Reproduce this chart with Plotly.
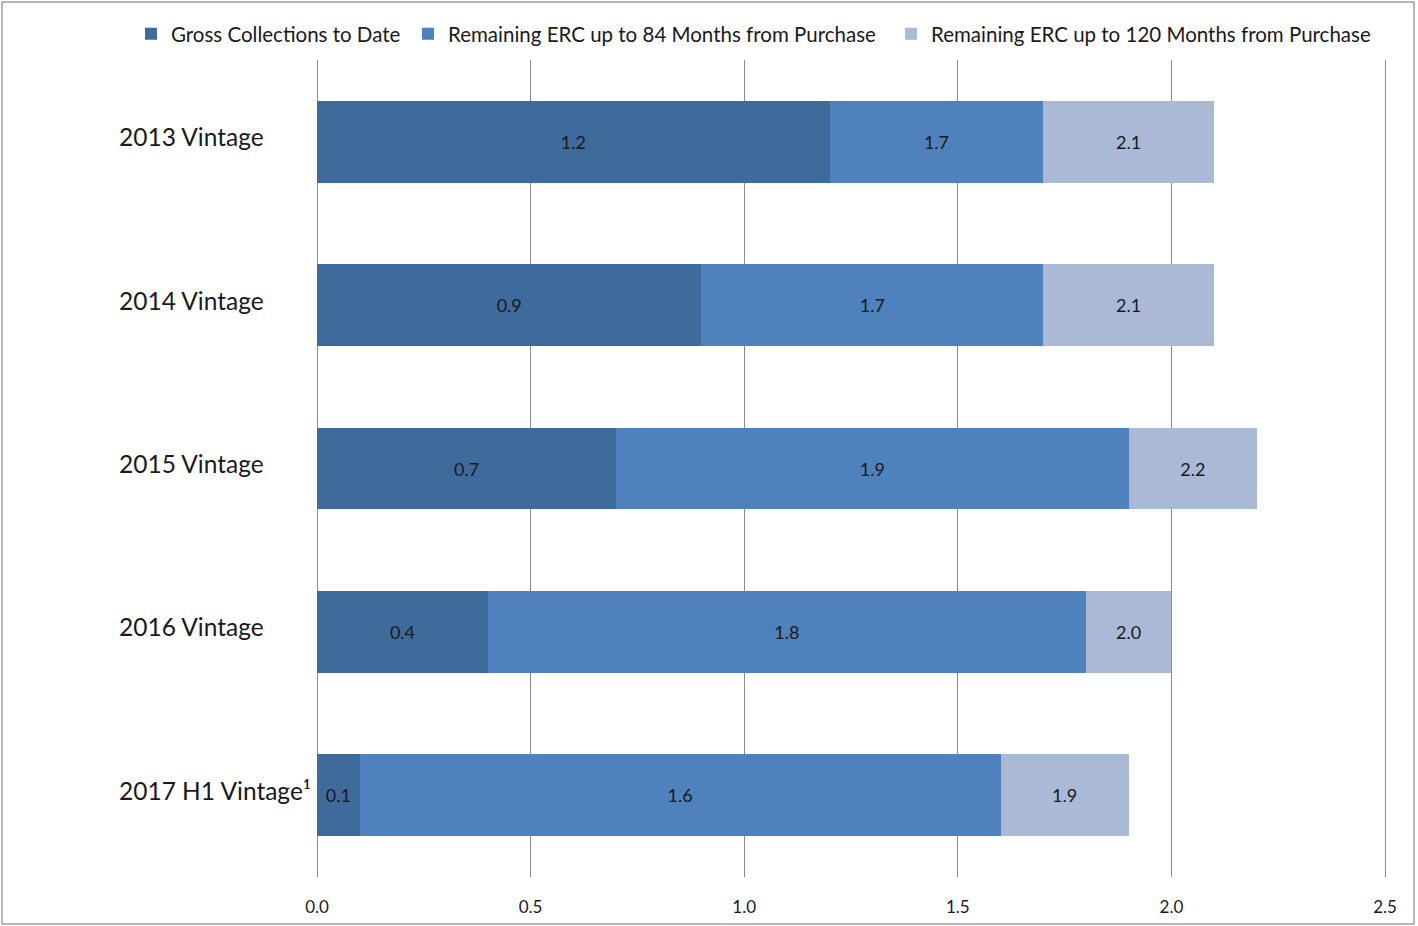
import plotly.graph_objects as go

categories = ["2013 Vintage", "2014 Vintage", "2015 Vintage", "2016 Vintage", "2017 H1 Vintage¹"]
gross_to_date = [1.2, 0.9, 0.7, 0.4, 0.1]
total_84 = [1.7, 1.7, 1.9, 1.8, 1.6]
total_120 = [2.1, 2.1, 2.2, 2.0, 1.9]
series_names = ["Gross Collections to Date",
                "Remaining ERC up to 84 Months from Purchase",
                "Remaining ERC up to 120 Months from Purchase"]
colors = ["#3F6A9C", "#4F81BD", "#AAB9D6"]
legend_widths = [232, 438, 0]
x_ticks = [0.0, 0.5, 1.0, 1.5, 2.0, 2.5]

seg1 = gross_to_date
seg2 = [round(b - a, 3) for a, b in zip(gross_to_date, total_84)]
seg3 = [round(c - b, 3) for b, c in zip(total_84, total_120)]
labels = [gross_to_date, total_84, total_120]

FONT = "Lato"
fig = go.Figure()
for name, seg, lab, col, lw in zip(series_names, [seg1, seg2, seg3], labels, colors, legend_widths):
    kw = dict(legendwidth=lw) if lw else {}
    fig.add_trace(go.Bar(
        y=categories, x=seg, name=name, orientation="h",
        marker=dict(color=col, line=dict(width=0)),
        text=[f"{v:.1f}" for v in lab],
        textposition="inside", insidetextanchor="middle",
        constraintext="none",
        textfont=dict(family=FONT, size=18, color="#1a1a1a"),
        hoverinfo="skip", **kw,
    ))

PW = 1070  # plot width in px
annotations = []
for c in categories:
    annotations.append(dict(
        x=(117 - 317) / PW, xref="paper", y=c, yref="y", xanchor="left", yanchor="middle",
        text=c, showarrow=False, yshift=5,
        font=dict(family=FONT, size=24.5, color="#1a1a1a"),
    ))

fig.update_layout(
    width=1418, height=926,
    margin=dict(l=317, r=1418 - 317 - PW, t=60, b=49, autoexpand=False),
    barmode="stack", bargap=0.5,
    paper_bgcolor="white", plot_bgcolor="white",
    font=dict(family=FONT, color="#1a1a1a"),
    showlegend=True,
    legend=dict(orientation="h", x=(131 - 317) / PW, xanchor="left", y=1.032, yanchor="middle",
                font=dict(family=FONT, size=20.5, color="#1a1a1a"),
                traceorder="normal", itemwidth=30),
    annotations=annotations,
    shapes=[dict(type="rect", xref="paper", yref="paper",
                 x0=(2 - 317) / PW, x1=(1414 - 317) / PW,
                 y0=-(924 - 877) / 817, y1=1 + (60 - 2) / 817,
                 line=dict(color="#a0a0a0", width=1.5), layer="below")],
)
fig.update_xaxes(range=[0, 2.5 * PW / 1068], tickvals=x_ticks, ticktext=[f"{v:.1f}" for v in x_ticks],
                 showgrid=True, gridcolor="#8c8c8c", gridwidth=1,
                 zeroline=True, zerolinecolor="#8c8c8c", zerolinewidth=1,
                 showline=False, ticks="", ticklabelstandoff=18, automargin=False,
                 tickfont=dict(family=FONT, size=17, color="#1a1a1a"), fixedrange=True)
fig.update_yaxes(autorange="reversed", showticklabels=False, showgrid=False, ticks="",
                 showline=False, zeroline=False, fixedrange=True, automargin=False)

fig.write_html("out.html")
